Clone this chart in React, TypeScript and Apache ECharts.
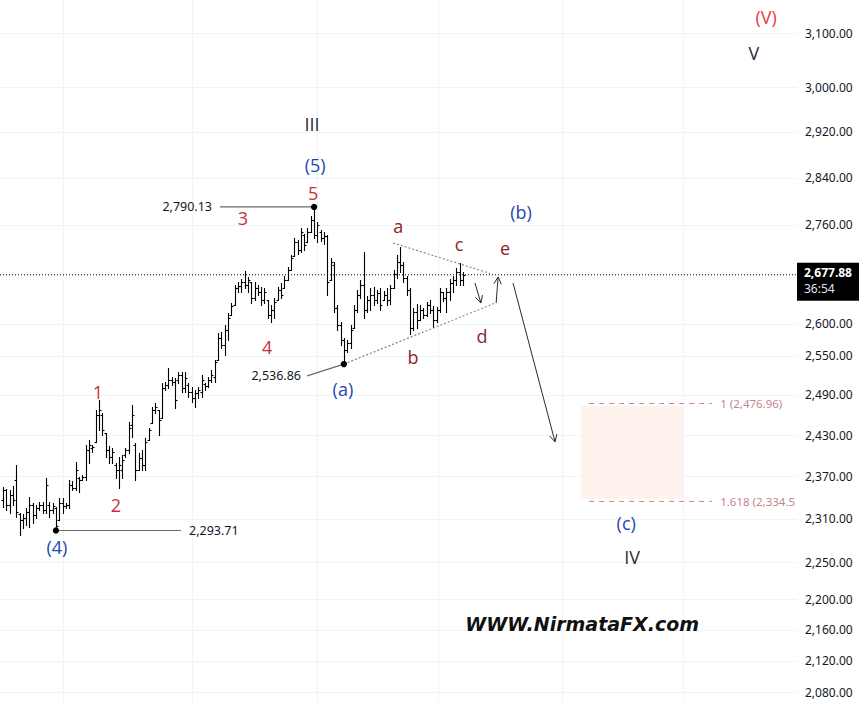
import React, { useEffect, useRef } from "react";
import * as echarts from "echarts";

// ---------- data ----------
const opens = [
  2336.8, 2351.0, 2329.8, 2343.9, 2365.2, 2317.1, 2308.7, 2311.5, 2319.9, 2329.8,
  2315.7, 2325.5, 2329.8, 2322.7, 2329.8, 2322.7, 2325.5, 2308.7, 2332.6, 2328.3,
  2329.8, 2358.1, 2353.8, 2368.1, 2365.2, 2369.5, 2408.5, 2411.4, 2420.2, 2460.1,
  2460.1, 2433.4, 2408.5, 2398.4, 2386.8, 2379.6, 2379.6, 2401.3, 2408.5, 2445.2,
  2415.8, 2379.6, 2396.9, 2386.8, 2423.1, 2448.2, 2467.5, 2467.5, 2455.6, 2500.5,
  2505.1, 2512.7, 2509.7, 2512.7, 2520.4, 2500.5, 2505.1, 2494.5, 2485.5, 2493.0,
  2494.5, 2506.6, 2503.6, 2512.7, 2517.3, 2543.3, 2577.4, 2566.6, 2589.9, 2613.5,
  2629.4, 2656.5, 2659.7, 2666.2, 2661.4, 2666.2, 2640.5, 2656.5, 2650.1, 2637.3,
  2637.3, 2613.5, 2621.4, 2637.3, 2653.3, 2656.5, 2669.4, 2685.6, 2708.5, 2731.5,
  2718.3, 2743.1, 2731.5, 2748.1, 2768.1, 2743.1, 2748.1, 2738.1, 2741.4, 2669.4,
  2693.8, 2624.6, 2597.8, 2574.3, 2558.8, 2569.7, 2593.0, 2621.4, 2645.3, 2661.4,
  2621.4, 2637.3, 2645.3, 2637.3, 2648.5, 2637.3, 2645.3, 2637.3, 2656.5, 2679.1,
  2698.6, 2693.8, 2672.6, 2653.3, 2593.0, 2618.2, 2605.6, 2621.4, 2613.5, 2629.4,
  2621.4, 2605.6, 2621.4, 2650.1, 2640.5, 2650.1, 2664.6, 2669.4, 2682.4, 2669.4,
];
const highs = [
  2355.3, 2352.4, 2351.0, 2356.7, 2386.8, 2318.5, 2317.1, 2325.5, 2341.1, 2332.6,
  2329.8, 2334.0, 2334.0, 2368.1, 2334.0, 2332.6, 2326.9, 2339.6, 2339.6, 2332.6,
  2365.2, 2363.8, 2391.1, 2369.5, 2372.4, 2415.8, 2423.1, 2415.8, 2467.5, 2482.5,
  2463.0, 2433.4, 2414.3, 2411.4, 2389.7, 2398.4, 2401.3, 2411.4, 2449.6, 2475.0,
  2418.7, 2404.2, 2408.5, 2426.1, 2440.7, 2472.0, 2478.0, 2467.5, 2508.1, 2509.7,
  2531.1, 2517.3, 2515.8, 2524.9, 2524.9, 2524.9, 2508.1, 2502.1, 2497.5, 2502.1,
  2520.4, 2508.1, 2517.3, 2528.0, 2543.3, 2585.2, 2586.8, 2597.8, 2616.7, 2632.5,
  2661.4, 2666.2, 2671.0, 2684.0, 2674.3, 2666.2, 2666.2, 2661.4, 2658.1, 2656.5,
  2637.3, 2629.4, 2640.5, 2658.1, 2664.6, 2675.9, 2690.5, 2710.1, 2738.1, 2734.8,
  2754.8, 2744.8, 2754.8, 2774.9, 2790.13, 2764.8, 2751.4, 2748.1, 2743.1, 2705.2,
  2698.6, 2629.4, 2602.5, 2577.4, 2574.3, 2597.8, 2629.4, 2653.3, 2669.4, 2715.0,
  2643.7, 2656.5, 2658.1, 2653.3, 2656.5, 2651.7, 2656.5, 2661.4, 2685.6, 2710.1,
  2723.3, 2698.6, 2675.9, 2656.5, 2624.6, 2631.0, 2629.4, 2624.6, 2634.1, 2637.3,
  2627.8, 2626.2, 2656.5, 2650.1, 2656.5, 2671.0, 2675.9, 2688.9, 2697.0, 2682.4,
];
const lows = [
  2326.9, 2322.7, 2318.5, 2329.8, 2312.9, 2287.9, 2297.6, 2301.8, 2299.0, 2304.5,
  2311.5, 2322.7, 2318.5, 2318.5, 2312.9, 2318.5, 2293.71, 2308.7, 2318.5, 2325.5,
  2325.5, 2351.0, 2351.0, 2348.2, 2365.2, 2365.2, 2389.7, 2405.6, 2420.2, 2437.8,
  2430.5, 2398.4, 2389.7, 2389.7, 2368.1, 2353.8, 2368.1, 2398.4, 2404.2, 2427.5,
  2365.2, 2379.6, 2379.6, 2379.6, 2423.1, 2448.2, 2463.0, 2430.5, 2455.6, 2497.5,
  2500.5, 2505.1, 2470.5, 2508.1, 2494.5, 2494.5, 2487.0, 2479.5, 2472.0, 2485.5,
  2487.0, 2497.5, 2502.1, 2509.7, 2509.7, 2543.3, 2561.9, 2551.1, 2574.3, 2613.5,
  2629.4, 2650.1, 2650.1, 2656.5, 2650.1, 2632.5, 2637.3, 2645.3, 2629.4, 2632.5,
  2608.8, 2602.5, 2608.8, 2637.3, 2640.5, 2656.5, 2669.4, 2685.6, 2708.5, 2711.7,
  2715.0, 2718.3, 2731.5, 2748.1, 2738.1, 2731.5, 2733.2, 2728.2, 2645.3, 2669.4,
  2618.2, 2589.9, 2566.6, 2536.86, 2555.7, 2561.9, 2593.0, 2618.2, 2640.5, 2608.8,
  2618.2, 2621.4, 2629.4, 2632.5, 2621.4, 2637.3, 2629.4, 2631.0, 2656.5, 2672.6,
  2682.4, 2666.2, 2645.3, 2583.7, 2589.9, 2593.0, 2605.6, 2608.8, 2611.9, 2616.7,
  2594.6, 2602.5, 2618.2, 2635.7, 2618.2, 2637.3, 2650.1, 2661.4, 2661.4, 2661.4,
];
const closes = [
  2351.0, 2329.8, 2343.9, 2336.8, 2319.9, 2308.7, 2311.5, 2319.9, 2329.8, 2315.7,
  2325.5, 2329.8, 2322.7, 2358.1, 2322.7, 2328.3, 2300.4, 2332.6, 2328.3, 2329.8,
  2358.1, 2353.8, 2379.6, 2365.2, 2369.5, 2408.5, 2415.8, 2412.9, 2460.1, 2467.5,
  2437.8, 2408.5, 2398.4, 2405.6, 2379.6, 2386.8, 2394.0, 2408.5, 2440.7, 2460.1,
  2379.6, 2396.9, 2386.8, 2420.2, 2437.8, 2467.5, 2472.0, 2452.6, 2500.5, 2505.1,
  2512.7, 2509.7, 2482.5, 2520.4, 2500.5, 2515.8, 2494.5, 2485.5, 2493.0, 2497.5,
  2512.7, 2503.6, 2512.7, 2520.4, 2540.2, 2577.4, 2566.6, 2589.9, 2608.8, 2627.8,
  2656.5, 2659.7, 2666.2, 2661.4, 2669.4, 2640.5, 2656.5, 2650.1, 2637.3, 2650.1,
  2613.5, 2621.4, 2634.1, 2653.3, 2645.3, 2669.4, 2685.6, 2705.2, 2731.5, 2718.3,
  2748.1, 2726.6, 2748.1, 2768.1, 2743.1, 2759.8, 2738.1, 2741.4, 2666.2, 2698.6,
  2624.6, 2597.8, 2574.3, 2558.8, 2569.7, 2589.9, 2621.4, 2645.3, 2661.4, 2621.4,
  2637.3, 2645.3, 2637.3, 2648.5, 2629.4, 2645.3, 2637.3, 2656.5, 2679.1, 2698.6,
  2693.8, 2672.6, 2653.3, 2593.0, 2618.2, 2605.6, 2621.4, 2613.5, 2629.4, 2621.4,
  2605.6, 2621.4, 2650.1, 2640.5, 2650.1, 2664.6, 2669.4, 2682.4, 2669.4, 2677.88,
];

const yTickValues = [2080, 2120, 2160, 2200, 2250, 2310, 2370, 2430, 2490, 2550, 2600, 2760, 2840, 2920, 3000, 3100];
const timeGridX = [18.1, 57.1, 94.9, 131.4, 168.9, 205.5];
const lastPrice = 2677.88;
const countdown = "36:54";
const pivotPoints = [
  [94, 2790.13],
  [103, 2536.86],
  [16, 2293.71],
];
const pivotTexts = ["2,790.13", "2,536.86", "2,293.71"];
const fibLevels = [2476.96, 2334.5];
const fibTexts = ["1 (2,476.96)", "1.618 (2,334.5"];
const zoneBounds = [2473.5, 2338.2];

const pivotLines = [
  [65.6, 2790.13, 94, 2790.13],
  [16, 2293.71, 53.8, 2293.71],
  [91.9, 2518.8, 103, 2536.86],
];
const triangleLines = [
  [117.9, 2729.9, 147.2, 2680.0],
  [103, 2536.86, 149.0, 2633.0],
];
const arrowLines = [
  [142.6, 2664.6, 144.4, 2632.5],
  [149.0, 2632.5, 149.6, 2674.3],
  [154.1, 2664.6, 166.8, 2420.2],
];

const RED = "#f23645";
const NUM = "#c4303d";
const LET = "#8e1d2b";
const BLUE = "#1f47b0";
const DARK = "#2a2e39";
const ROSE = "#c4868b";
const FONT = "'Open Sans', 'Noto Sans', sans-serif";

const waveLabels = [
  { text: "(V)", x: 230.6, p: 3130.2, color: RED },
  { text: "V", x: 226.9, p: 3062.7, color: DARK },
  { text: "III", x: 93.4, p: 2933.8, color: DARK },
  { text: "(5)", x: 94.3, p: 2861.9, color: BLUE },
  { text: "5", x: 93.7, p: 2813.8, color: NUM },
  { text: "3", x: 72.5, p: 2771.5, color: NUM },
  { text: "4", x: 79.8, p: 2563.4, color: NUM },
  { text: "1", x: 28.7, p: 2494.5, color: NUM },
  { text: "2", x: 34.1, p: 2329.8, color: NUM },
  { text: "(4)", x: 16.3, p: 2271.4, color: BLUE },
  { text: "(a)", x: 102.7, p: 2499.0, color: BLUE },
  { text: "a", x: 119.4, p: 2758.1, color: LET },
  { text: "b", x: 123.9, p: 2548.0, color: LET },
  { text: "c", x: 137.8, p: 2728.2, color: LET },
  { text: "d", x: 144.7, p: 2580.5, color: LET },
  { text: "e", x: 151.7, p: 2721.6, color: LET },
  { text: "(b)", x: 156.5, p: 2781.6, color: BLUE },
  { text: "(c)", x: 188.3, p: 2304.5, color: BLUE },
  { text: "IV", x: 190.1, p: 2257.2, color: DARK },
];
const watermark = { text: "WWW.NirmataFX.com", x: 175.0, p: 2167.4 };

// ---------- helpers ----------
const L = Math.log;
const fmt = (n: number) =>
  (Math.round(n * 100) / 100).toLocaleString("en-US", { minimumFractionDigits: 2, maximumFractionDigits: 2 });

function segSeries(segs: number[][], style: any, arrow: boolean, z: number) {
  return {
    type: "custom",
    silent: true,
    z,
    data: segs.map((s) => [s[0], L(s[1]), s[2], L(s[3])]),
    encode: { x: [0, 2], y: [1, 3] },
    renderItem: (params: any, api: any) => {
      const a = api.coord([api.value(0), api.value(1)]);
      const b = api.coord([api.value(2), api.value(3)]);
      const children: any[] = [
        { type: "line", shape: { x1: a[0], y1: a[1], x2: b[0], y2: b[1] }, style },
      ];
      if (arrow) {
        const ang = Math.atan2(b[1] - a[1], b[0] - a[0]);
        const len = 8;
        const spread = Math.PI / 6.5;
        for (const s of [-1, 1]) {
          const t = ang + Math.PI + s * spread;
          children.push({
            type: "line",
            shape: { x1: b[0], y1: b[1], x2: b[0] + len * Math.cos(t), y2: b[1] + len * Math.sin(t) },
            style,
          });
        }
      }
      return { type: "group", children };
    },
  };
}

export default function App() {
  const ref = useRef<HTMLDivElement>(null);
  useEffect(() => {
    if (!ref.current) return;
    const chart = echarts.init(ref.current, undefined, { renderer: "svg" });
    const barData = opens.map((o, i) => [i, L(o), L(highs[i]), L(lows[i]), L(closes[i])]);

    const option: any = {
      animation: false,
      backgroundColor: "#ffffff",
      grid: { left: 0, right: 62, top: 0, bottom: 0 },
      xAxis: { type: "value", min: -0.9, max: 239.9, show: false },
      yAxis: {
        type: "value",
        position: "right",
        min: L(2067.5),
        max: L(3162.6),
        axisLine: { show: false },
        axisTick: { show: false },
        splitLine: { show: false },
        axisLabel: {
          customValues: yTickValues.map(L),
          formatter: (v: number) => fmt(Math.exp(v)),
          color: "#131722",
          fontSize: 12,
          fontFamily: "'Noto Sans', sans-serif",
          margin: 8,
        },
      },
      series: [
        // horizontal grid
        {
          type: "custom",
          silent: true,
          z: 0,
          data: yTickValues.map((v) => [0, L(v)]),
          encode: { x: 0, y: 1 },
          renderItem: (params: any, api: any) => {
            const cs = params.coordSys;
            const y = Math.round(api.coord([0, api.value(1)])[1]) + 0.5;
            return {
              type: "line",
              shape: { x1: cs.x, y1: y, x2: cs.x + cs.width, y2: y },
              style: { stroke: "#f0f3fa", lineWidth: 1 },
            };
          },
        },
        // vertical grid
        {
          type: "custom",
          silent: true,
          z: 0,
          data: timeGridX.map((v) => [v, L(2600)]),
          encode: { x: 0, y: 1 },
          renderItem: (params: any, api: any) => {
            const cs = params.coordSys;
            const x = Math.round(api.coord([api.value(0), api.value(1)])[0]) + 0.5;
            return {
              type: "line",
              shape: { x1: x, y1: cs.y, x2: x, y2: cs.y + cs.height },
              style: { stroke: "#f0f3fa", lineWidth: 1 },
            };
          },
        },
        // target zone
        {
          type: "custom",
          silent: true,
          z: 1,
          data: [[174.65, L(zoneBounds[0]), 205.5, L(zoneBounds[1])]],
          encode: { x: [0, 2], y: [1, 3] },
          renderItem: (params: any, api: any) => {
            const a = api.coord([api.value(0), api.value(1)]);
            const b = api.coord([api.value(2), api.value(3)]);
            return {
              type: "rect",
              shape: { x: a[0], y: a[1], width: b[0] - a[0], height: b[1] - a[1] },
              style: { fill: "#fdf3ec" },
            };
          },
        },
        // fib dashed lines
        segSeries(
          fibLevels.map((f) => [177.1, f, 214.2, f]),
          { stroke: ROSE, lineWidth: 1, lineDash: [5, 5] },
          false,
          2
        ),
        // last price dotted line
        segSeries([[-0.9, lastPrice, 239.9, lastPrice]], { stroke: "#000", lineWidth: 1, lineDash: [1, 2] }, false, 2),
        // OHLC bars
        {
          type: "custom",
          silent: true,
          z: 3,
          data: barData,
          encode: { x: 0, y: [1, 2, 3, 4] },
          renderItem: (params: any, api: any) => {
            const x = api.value(0);
            const o = api.coord([x, api.value(1)]);
            const h = api.coord([x, api.value(2)]);
            const l = api.coord([x, api.value(3)]);
            const c = api.coord([x, api.value(4)]);
            const px = Math.round(o[0]) + 0.5;
            const oy = Math.round(o[1]) + 0.5;
            const cy = Math.round(c[1]) + 0.5;
            const style = { stroke: "#000", lineWidth: 1.1 };
            return {
              type: "group",
              children: [
                { type: "line", shape: { x1: px, y1: Math.round(h[1]), x2: px, y2: Math.round(l[1]) + 1 }, style },
                { type: "line", shape: { x1: px - 2, y1: oy, x2: px, y2: oy }, style },
                { type: "line", shape: { x1: px, y1: cy, x2: px + 2, y2: cy }, style },
              ],
            };
          },
        },
        // triangle
        segSeries(triangleLines, { stroke: "#8a8a8a", lineWidth: 1.2, lineDash: [2, 2] }, false, 4),
        // pivot connector lines
        segSeries(pivotLines, { stroke: "#6b6b6b", lineWidth: 1.2 }, false, 4),
        // arrows
        segSeries(arrowLines, { stroke: "#2a2a2a", lineWidth: 1 }, true, 4),
        // pivot dots
        {
          type: "custom",
          silent: true,
          z: 5,
          data: pivotPoints.map((p) => [p[0], L(p[1])]),
          encode: { x: 0, y: 1 },
          renderItem: (params: any, api: any) => {
            const pt = api.coord([api.value(0), api.value(1)]);
            return { type: "circle", shape: { cx: pt[0], cy: pt[1], r: 3.2 }, style: { fill: "#000" } };
          },
        },
        // pivot price texts
        {
          type: "custom",
          silent: true,
          z: 5,
          data: [
            [63.15, L(pivotPoints[0][1])],
            [90.05, L(2518.8)],
            [56.2, L(pivotPoints[2][1])],
          ],
          encode: { x: 0, y: 1 },
          renderItem: (params: any, api: any) => {
            const pt = api.coord([api.value(0), api.value(1)]);
            const i = params.dataIndex;
            return {
              type: "text",
              x: pt[0],
              y: pt[1],
              style: {
                text: pivotTexts[i],
                fill: "#131722",
                fontSize: 12.5,
                fontFamily: "'Noto Sans', sans-serif",
                align: i === 2 ? "left" : "right",
                verticalAlign: "middle",
              },
            };
          },
        },
        // fib texts
        {
          type: "custom",
          silent: true,
          z: 5,
          data: fibLevels.map((f) => [216.7, L(f)]),
          encode: { x: 0, y: 1 },
          renderItem: (params: any, api: any) => {
            const pt = api.coord([api.value(0), api.value(1)]);
            return {
              type: "text",
              x: pt[0],
              y: pt[1],
              style: {
                text: fibTexts[params.dataIndex],
                fill: ROSE,
                fontSize: 11.5,
                fontFamily: "'Noto Sans', sans-serif",
                align: "left",
                verticalAlign: "middle",
              },
            };
          },
        },
        // wave labels
        {
          type: "custom",
          silent: true,
          z: 6,
          data: waveLabels.map((w) => [w.x, L(w.p)]),
          encode: { x: 0, y: 1 },
          renderItem: (params: any, api: any) => {
            const pt = api.coord([api.value(0), api.value(1)]);
            const w = waveLabels[params.dataIndex];
            return {
              type: "text",
              x: pt[0],
              y: pt[1],
              style: {
                text: w.text,
                fill: w.color,
                fontSize: 18,
                fontFamily: FONT,
                align: "center",
                verticalAlign: "middle",
              },
            };
          },
        },
        // watermark
        {
          type: "custom",
          silent: true,
          z: 6,
          data: [[watermark.x, L(watermark.p)]],
          encode: { x: 0, y: 1 },
          renderItem: (params: any, api: any) => {
            const pt = api.coord([api.value(0), api.value(1)]);
            return {
              type: "text",
              x: pt[0],
              y: pt[1],
              style: {
                text: watermark.text,
                fill: "#111",
                fontSize: 19,
                fontWeight: "bold",
                fontStyle: "italic",
                fontFamily: "'DejaVu Sans', sans-serif",
                align: "center",
                verticalAlign: "middle",
              },
            };
          },
        },
        // last price box on the axis
        {
          type: "custom",
          silent: true,
          z: 7,
          data: [[closes.length - 1, L(lastPrice)]],
          encode: { x: 0, y: 1 },
          renderItem: (params: any, api: any) => {
            const cs = params.coordSys;
            const pt = api.coord([api.value(0), api.value(1)]);
            const x0 = cs.x + cs.width;
            return {
              type: "group",
              children: [
                { type: "rect", shape: { x: x0, y: pt[1] - 12, width: 62, height: 38 }, style: { fill: "#000" } },
                {
                  type: "text",
                  x: x0 + 7,
                  y: pt[1] - 2,
                  style: {
                    text: fmt(lastPrice),
                    fill: "#fff",
                    fontSize: 12,
                    fontWeight: "bold",
                    fontFamily: "'Noto Sans', sans-serif",
                    align: "left",
                    verticalAlign: "middle",
                  },
                },
                {
                  type: "text",
                  x: x0 + 7,
                  y: pt[1] + 14,
                  style: {
                    text: countdown,
                    fill: "#e0e3eb",
                    fontSize: 12,
                    fontFamily: "'Noto Sans', sans-serif",
                    align: "left",
                    verticalAlign: "middle",
                  },
                },
              ],
            };
          },
        },
      ],
    };
    chart.setOption(option);
    return () => chart.dispose();
  }, []);

  return (
    <div
      ref={ref}
      style={{ position: "fixed", left: 0, top: 0, width: 859, height: 702, background: "#fff" }}
    />
  );
}
